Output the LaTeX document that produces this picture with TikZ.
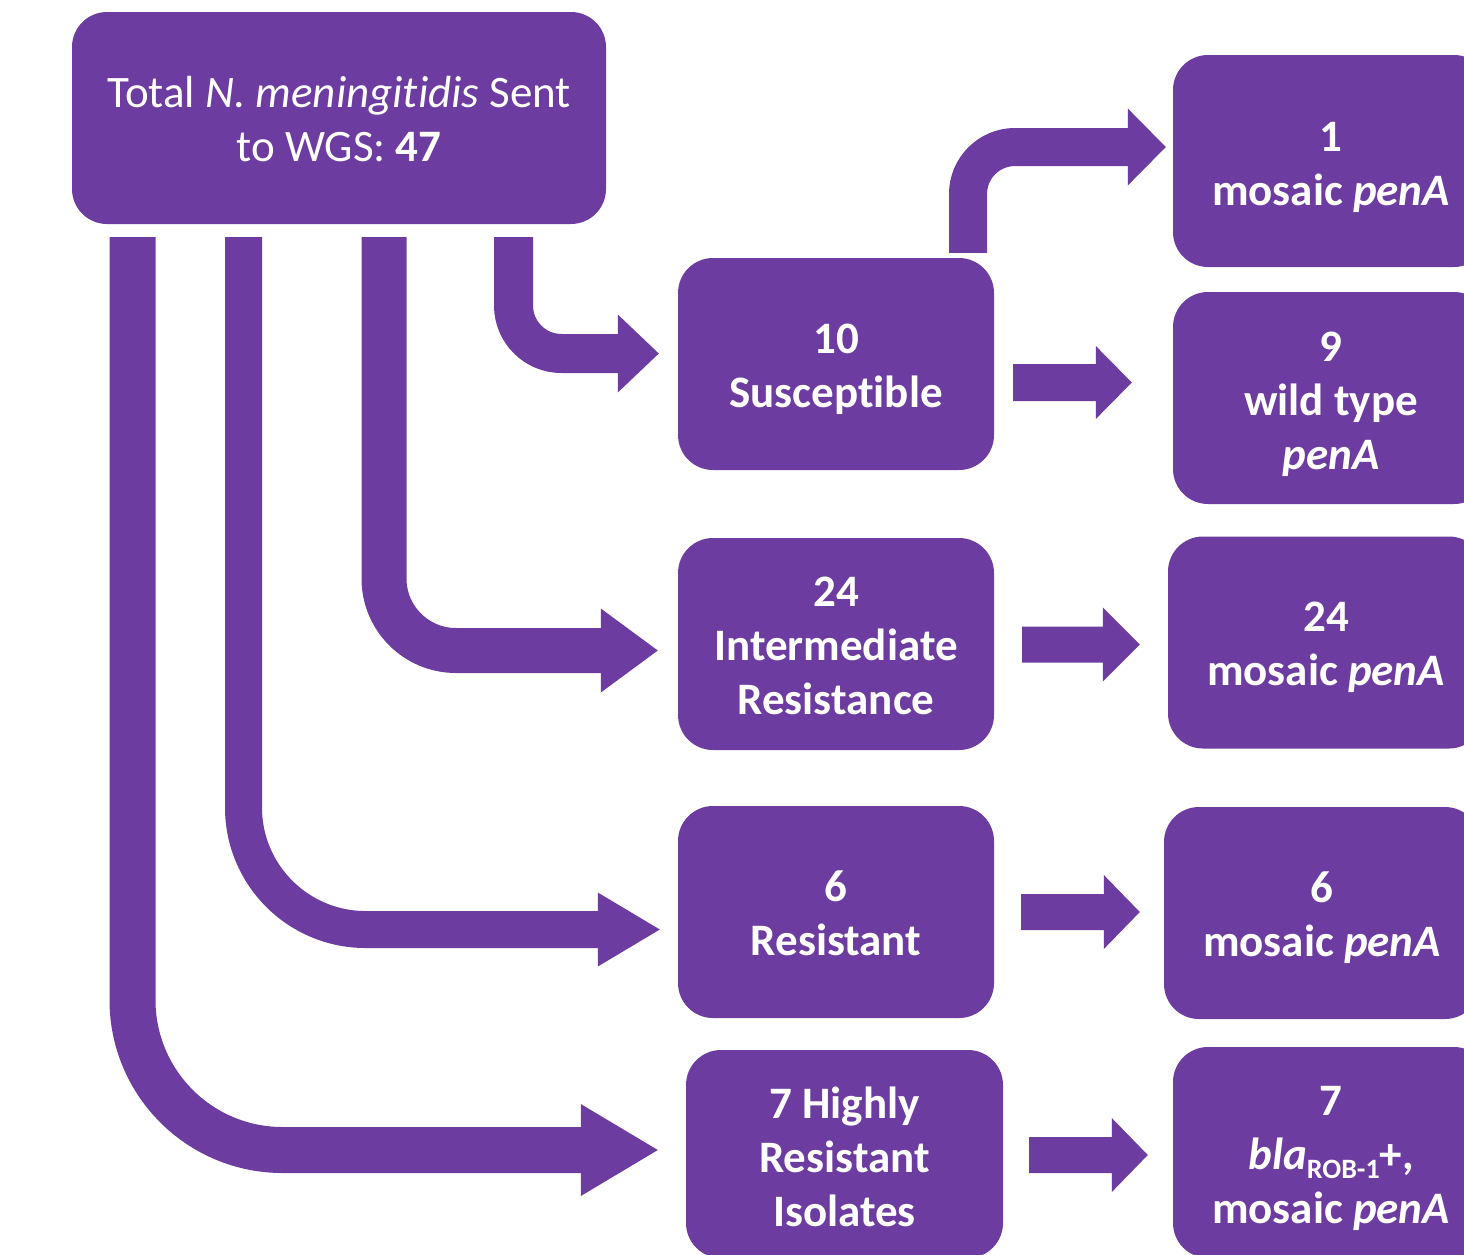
\documentclass[tikz,border=0pt]{standalone}
\usepackage{fontspec}
\setmainfont{Carlito}[Ligatures=NoCommon]
\usetikzlibrary{calc}
\definecolor{pur}{RGB}{108,60,160}
\tikzset{
  box/.style={fill=pur, rounded corners=35pt, minimum width=316pt, minimum height=212pt,
    inner sep=0pt},
  boxtext/.style={text=white, align=center, inner sep=0pt,
    font=\fontsize{45}{54}\selectfont\bfseries},
  bendline/.style={draw=pur, line cap=butt, line join=miter},
}
% horizontal block arrow: #1 start, #2 tip, #3 half shaft, #4 half head, #5 head length
\newcommand\fatarrow[5]{%
  \fill[pur] let \p1=(#1), \p2=(#2) in
    (\x1,\y1+#3pt) -- (\x2-#5pt,\y1+#3pt) -- (\x2-#5pt,\y1+#4pt) -- (\x2,\y1)
    -- (\x2-#5pt,\y1-#4pt) -- (\x2-#5pt,\y1-#3pt) -- (\x1,\y1-#3pt) -- cycle;}
% arrow head pointing right: #1 base centre, #2 half width, #3 length
\newcommand\headright[3]{%
  \fill[pur] (#1) ++(0,-#2) -- ++(#3,#2) -- ++(-#3,#2) -- cycle;}
\newcommand\subtxt[1]{{\fontsize{28}{28}\selectfont\raisebox{-9pt}{#1}}}

\begin{document}
\begin{tikzpicture}[x=1pt,y=-1pt]
\useasboundingbox (0,0) rectangle (1464,1254);
\clip (0,0) rectangle (1464,1254);

% boxes
\node[box, minimum width=534pt] (T) at (339,118) {};
\node[box] (S) at (836,364) {};
\node[box] (I) at (836,644) {};
\node[box] (R) at (836,912) {};
\node[box, minimum width=317pt, minimum height=208pt] (H) at (844.5,1154) {};
\node[box] (M1) at (1331,161) {};
\node[box] (W9) at (1331,398) {};
\node[box] (M24) at (1326,642.5) {};
\node[box] (M6) at (1322,913) {};
\node[box, minimum height=211pt] (B7) at (1331,1152.5) {};

% texts
\node[boxtext, font=\fontsize{45}{54}\selectfont] (Tt) at ($(T)+(0,1)$)
  {Total \textit{N. meningitidis} Sent\\to WGS: \textbf{47}};
\node[boxtext] (St) at ($(S)+(0,5)$) {10\\Susceptible};
\node[boxtext] (It) at ($(I)+(0,2)$) {24\\Intermediate\\Resistance};
\node[boxtext] (Rt) at ($(R)+(0,1)$) {6\\Resistant};
\node[boxtext] (Ht) at ($(H)+(0,3)$) {7 Highly\\Resistant\\Isolates};
\node[boxtext] (M1t) at ($(M1)+(0,6)$) {1\\mosaic \textit{penA}};
\node[boxtext] (W9t) at ($(W9)+(0,6)$) {9\\wild type\\\textit{penA}};
\node[boxtext] (M24t) at ($(M24)+(0,5)$) {24\\mosaic \textit{penA}};
\node[boxtext] (M6t) at ($(M6)+(0,5)$) {6\\mosaic \textit{penA}};
\node[boxtext] (B7t) at ($(B7)+(0,6)$)
  {7\\\textit{bla}\subtxt{ROB-1}+,\\mosaic \textit{penA}};

% bent arrows from the top box
\coordinate (b1) at ($(H.west)+(-105,-4)$);
\draw[bendline, line width=46pt, rounded corners=150pt] ($(T.south)+(-206.5,13)$) |- (b1);
\headright{b1}{46}{77}

\coordinate (b2) at ($(R.west)+(-80,17.5)$);
\draw[bendline, line width=37pt, rounded corners=122pt] ($(T.south)+(-95.5,13)$) |- (b2);
\headright{b2}{37}{62}

\coordinate (b3) at ($(I.west)+(-77,6.5)$);
\draw[bendline, line width=45pt, rounded corners=72pt] ($(T.south)+(45,13)$) |- (b3);
\headright{b3}{42}{57}

\coordinate (b4) at ($(S.west)+(-60,-10.5)$);
\draw[bendline, line width=39pt, rounded corners=48pt] ($(T.south)+(174.5,13)$) |- (b4);
\headright{b4}{39}{41}

% bent arrow Susceptible -> 1 mosaic
\coordinate (b5) at ($(M1.west)+(-45,-14)$);
\draw[bendline, line width=38pt, rounded corners=47pt] ($(S.north)+(132,-5)$) |- (b5);
\headright{b5}{38.5}{38}

% straight block arrows
\coordinate (s1) at ($(S.east)+(19,18.5)$);
\coordinate (t1) at ($(W9.west)+(-41,-15.5)$);
\fatarrow{s1}{t1}{18.5}{36.5}{36}

\coordinate (s2) at ($(I.east)+(28,0.5)$);
\coordinate (t2) at ($(M24.west)+(-28,2)$);
\fatarrow{s2}{t2}{18}{37}{37}

\coordinate (s3) at ($(R.east)+(27,0)$);
\coordinate (t3) at ($(M6.west)+(-24,-1)$);
\fatarrow{s3}{t3}{18}{37}{36}

\coordinate (s4) at ($(H.east)+(26,1)$);
\coordinate (t4) at ($(B7.west)+(-25,2.5)$);
\fatarrow{s4}{t4}{18}{37}{36}
\end{tikzpicture}
\end{document}
